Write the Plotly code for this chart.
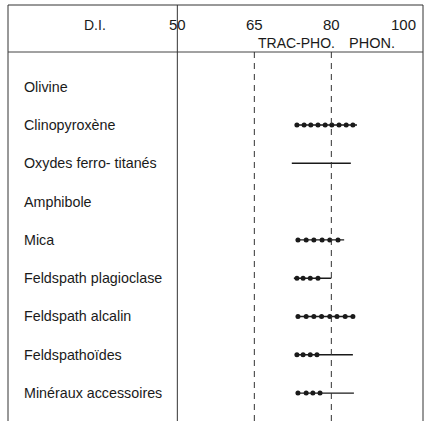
import plotly.graph_objects as go

# ---- data ----
minerals = ["Olivine", "Clinopyroxène", "Oxydes ferro- titanés", "Amphibole", "Mica",
            "Feldspath plagioclase", "Feldspath alcalin", "Feldspathoïdes",
            "Minéraux accessoires"]
range_start = [None, 72.9, 72.3, None, 73.1, 72.7, 73.3, 72.9, 73.1]
range_end = [None, 85.0, 83.8, None, 82.5, 80.0, 84.4, 84.2, 84.4]
dot_values = [
    [],
    [73.3, 74.7, 76.0, 77.4, 78.8, 80.1, 81.5, 82.9, 84.2],
    [],
    [],
    [73.5, 75.1, 76.6, 78.2, 79.7, 81.3],
    [73.3, 74.5, 75.9, 77.4],
    [73.5, 75.1, 76.6, 78.1, 79.7, 81.1, 82.7, 84.2],
    [73.3, 74.5, 75.9, 77.2],
    [73.5, 75.1, 76.4, 77.8],
]
tick_values = [50, 65, 80]
tick_labels = ["50", "65", "80"]
solid_grid = [50]
dashed_grid = [65, 80]

FONT = "Liberation Sans, Arial, Helvetica, sans-serif"
INK = "#1a1a1a"

fig = go.Figure()

# solid range segments
for m, s, e in zip(minerals, range_start, range_end):
    if s is None:
        continue
    fig.add_trace(go.Scatter(x=[s, e], y=[m, m], mode="lines",
                             line=dict(color=INK, width=1.4),
                             hoverinfo="skip", showlegend=False))
# dotted portions
for m, dv in zip(minerals, dot_values):
    if not dv:
        continue
    fig.add_trace(go.Scatter(x=dv, y=[m] * len(dv), mode="markers",
                             marker=dict(color=INK, size=5, symbol="circle"),
                             hoverinfo="skip", showlegend=False))

shapes = []
line_style = dict(color="#333", width=1)
shapes.append(dict(type="line", xref="paper", yref="paper", x0=0, x1=1, y0=1, y1=1, line=line_style))
shapes.append(dict(type="line", xref="paper", yref="paper", x0=0, x1=0, y0=0, y1=1, line=line_style))
shapes.append(dict(type="line", xref="paper", yref="paper", x0=1, x1=1, y0=0, y1=1, line=line_style))
shapes.append(dict(type="line", xref="paper", yref="paper", x0=0, x1=1, y0=0.887, y1=0.887,
                   line=dict(color="#444", width=1)))
for g in solid_grid:
    shapes.append(dict(type="line", xref="x", yref="paper", x0=g, x1=g, y0=0, y1=1,
                       line=dict(color="#333", width=1)))
for g in dashed_grid:
    shapes.append(dict(type="line", xref="x", yref="paper", x0=g, x1=g, y0=0, y1=0.887,
                       line=dict(color="#333", width=1, dash="6px,5px")))

annotations = []
for m in minerals:
    annotations.append(dict(text=m, xref="paper", yref="y", x=0.034, y=m,
                            xanchor="left", yanchor="middle", showarrow=False,
                            font=dict(family=FONT, size=14.3, color=INK)))
for v, t in zip(tick_values, tick_labels):
    annotations.append(dict(text=t, xref="x", yref="paper", x=v, y=0.953,
                            xanchor="center", yanchor="middle", showarrow=False,
                            font=dict(family=FONT, size=15, color=INK)))
annotations.append(dict(text="100", xref="paper", yref="paper", x=0.988, y=0.953,
                        xanchor="right", yanchor="middle", showarrow=False,
                        font=dict(family=FONT, size=15, color=INK)))
annotations.append(dict(text="D.I.", xref="paper", yref="paper", x=0.21, y=0.953,
                        xanchor="center", yanchor="middle", showarrow=False,
                        font=dict(family=FONT, size=14, color=INK)))
annotations.append(dict(text="TRAC-PHO.", xref="paper", yref="paper", x=0.598, y=0.909,
                        xanchor="left", yanchor="middle", showarrow=False,
                        font=dict(family=FONT, size=14, color=INK)))
annotations.append(dict(text="PHON.", xref="paper", yref="paper", x=0.818, y=0.909,
                        xanchor="left", yanchor="middle", showarrow=False,
                        font=dict(family=FONT, size=14.5, color=INK)))

fig.update_layout(
    width=431, height=423,
    margin=dict(l=8, r=8, t=5, b=2),
    paper_bgcolor="white", plot_bgcolor="white",
    shapes=shapes, annotations=annotations,
    xaxis=dict(range=[17.01, 97.86], visible=False, showgrid=False, zeroline=False),
    yaxis=dict(type="category", categoryorder="array", categoryarray=minerals,
               range=[8.729, -2.133], visible=False, showgrid=False, zeroline=False),
)

fig.write_html("out.html", config={"displayModeBar": False},
               post_script="document.body.style.margin='0';document.body.style.overflow='hidden';")
